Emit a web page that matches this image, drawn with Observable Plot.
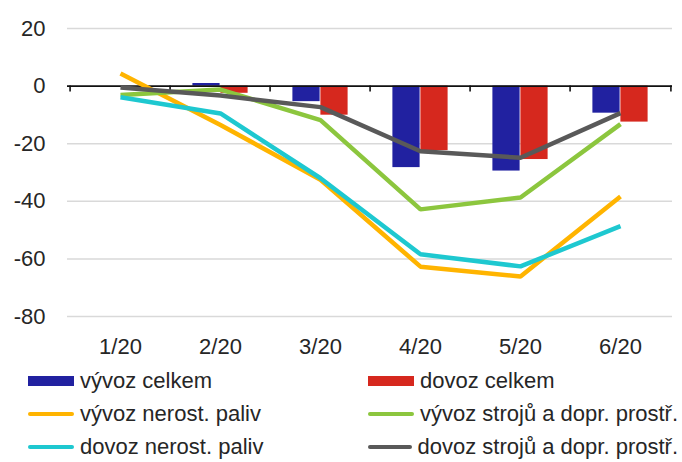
<!DOCTYPE html>
<html>
<head>
<meta charset="utf-8">
<script src="https://cdn.jsdelivr.net/npm/d3@7"></script>
<script src="https://cdn.jsdelivr.net/npm/@observablehq/plot@0.6"></script>
<style>
  html, body { margin: 0; padding: 0; background: #fff; }
  #wrap { width: 682px; height: 462px; position: relative; overflow: hidden; font-family: "Liberation Sans", Arial, sans-serif; color: #262626; }
  #legend { display: grid; grid-template-columns: 340px 310px; margin-left: 28px; margin-top: 2px; }
  .item { display: flex; align-items: center; height: 33px; font-size: 22px; white-space: nowrap; }
  .sw { display: inline-block; width: 46px; margin-right: 6px; }
  .bar { height: 10px; }
  .ln { height: 4px; border-radius: 2px; }
</style>
</head>
<body>
<div id="wrap"><div id="chart"></div><div id="legend"></div></div>
<script>
// ---- data ----
const months = ["1/20", "2/20", "3/20", "4/20", "5/20", "6/20"];
const vyvozCelkem = [0, 0.9, -5.4, -28.3, -29.5, -9.4];
const dovozCelkem = [0, -2.5, -10.1, -22.4, -25.5, -12.5];
const vyvozNerostPaliv = [4.4, -13.5, -32.5, -62.7, -66.1, -38.3];
const vyvozStroju = [-3.1, -1.2, -11.8, -42.8, -38.7, -13.2];
const dovozNerostPaliv = [-3.9, -9.5, -32, -58.4, -62.6, -48.6];
const dovozStroju = [-0.5, -3.3, -7.3, -22.6, -24.9, -9.4];
const yTicks = [20, 0, -20, -40, -60, -80];
const seriesNames = ["vývoz celkem", "dovoz celkem", "vývoz nerost. paliv", "vývoz strojů a dopr. prostř.", "dovoz nerost. paliv", "dovoz strojů a dopr. prostř."];

// ---- styling ----
const colors = {
  vc: "#2121a0", dc: "#d6281e", vp: "#ffb400", vs: "#8cc63e", dp: "#1ec8d0", ds: "#595959"
};

const rows = months.map((m, i) => ({
  m, vc: vyvozCelkem[i], dc: dovozCelkem[i], vp: vyvozNerostPaliv[i],
  vs: vyvozStroju[i], dp: dovozNerostPaliv[i], ds: dovozStroju[i]
}));

const W = 682, H = 362, ML = 67, MR = 10, MT = 28, MB = 46;
const bw = (W - ML - MR) / months.length;
const pxPerUnit = (H - MT - MB) / 100;
const tickLen = 6 / pxPerUnit;
const boundaries = [...months.map(m => ({m, side: -1})), {m: months[months.length - 1], side: 1}];

const lineOpts = (key) => ({x: "m", y: key, stroke: colors[key], strokeWidth: 4.5, strokeLinejoin: "miter", strokeLinecap: "butt"});

const chart = Plot.plot({
  width: W, height: H,
  marginLeft: ML, marginRight: MR, marginTop: MT, marginBottom: MB,
  style: {fontFamily: "'Liberation Sans', Arial, sans-serif", fontSize: "22px", color: "#262626", background: "#fff"},
  x: {type: "band", domain: months, padding: 0, tickSize: 0, tickPadding: 22, label: null},
  y: {domain: [-80, 20], ticks: yTicks, tickSize: 0, tickPadding: 22, label: null, tickFormat: d => String(d)},
  marks: [
    Plot.ruleY(yTicks.filter(d => d !== 0), {stroke: "#d9d9d9", strokeWidth: 1.5}),
    Plot.barY(rows, {x: "m", y: "vc", fill: colors.vc, insetLeft: 22.4, insetRight: 50.4}),
    Plot.barY(rows, {x: "m", y: "dc", fill: colors.dc, insetLeft: 50.4, insetRight: 22.4}),
    Plot.ruleY([0], {stroke: "#111", strokeWidth: 1.6}),
    Plot.ruleX(boundaries.filter(d => d.side < 0), {x: "m", y1: 0, y2: -tickLen, stroke: "#111", strokeWidth: 1.6, dx: -bw / 2}),
    Plot.ruleX(boundaries.filter(d => d.side > 0), {x: "m", y1: 0, y2: -tickLen, stroke: "#111", strokeWidth: 1.6, dx: bw / 2}),
    Plot.line(rows, lineOpts("vp")),
    Plot.line(rows, lineOpts("vs")),
    Plot.line(rows, lineOpts("dp")),
    Plot.line(rows, lineOpts("ds"))
  ]
});
document.getElementById("chart").appendChild(chart);

// ---- legend ----
const legendItems = [
  {name: seriesNames[0], color: colors.vc, kind: "bar"},
  {name: seriesNames[1], color: colors.dc, kind: "bar"},
  {name: seriesNames[2], color: colors.vp, kind: "ln"},
  {name: seriesNames[3], color: colors.vs, kind: "ln"},
  {name: seriesNames[4], color: colors.dp, kind: "ln"},
  {name: seriesNames[5], color: colors.ds, kind: "ln"}
];
const leg = document.getElementById("legend");
for (const it of legendItems) {
  const d = document.createElement("div");
  d.className = "item";
  const s = document.createElement("span");
  s.className = "sw " + it.kind;
  s.style.background = it.color;
  const t = document.createElement("span");
  t.textContent = it.name;
  d.appendChild(s); d.appendChild(t);
  leg.appendChild(d);
}
</script>
</body>
</html>
